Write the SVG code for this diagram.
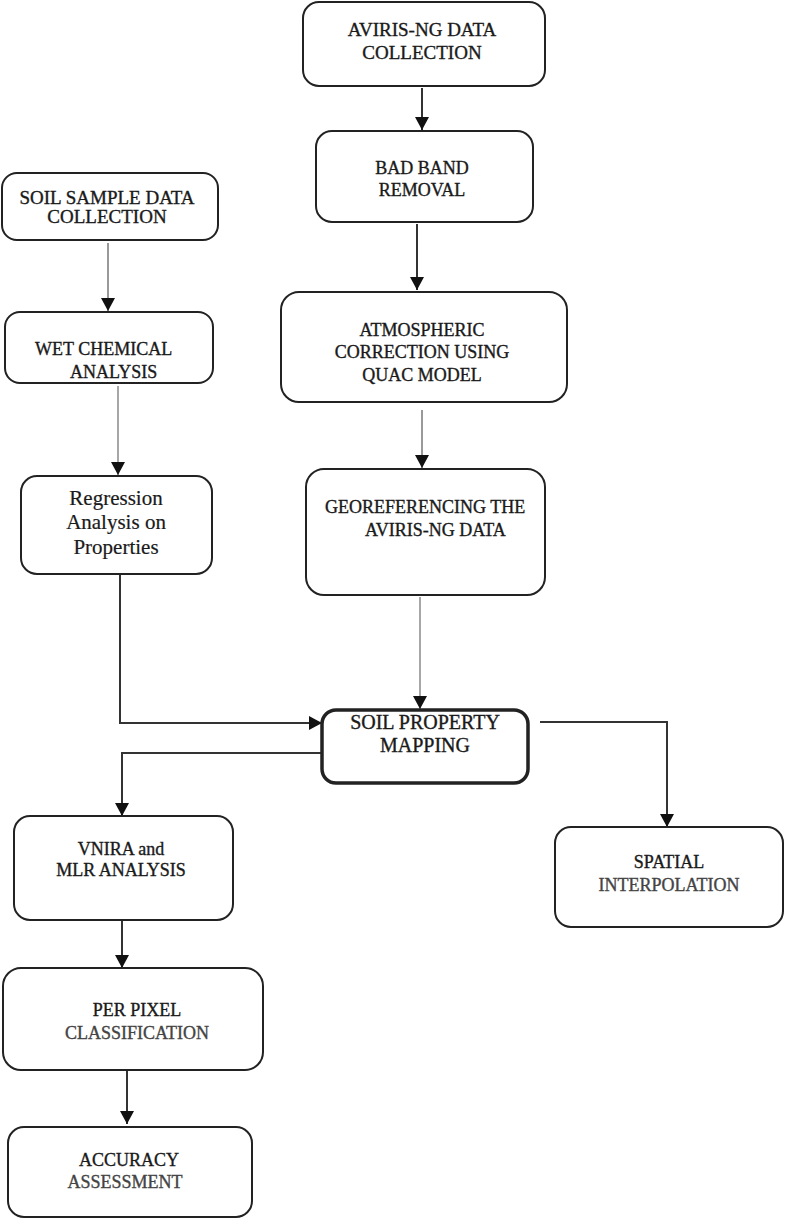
<svg xmlns="http://www.w3.org/2000/svg" width="785" height="1220" viewBox="0 0 785 1220">
<defs>
<style>
.box{fill:#fff;stroke:#222;stroke-width:2}
.thick{stroke-width:3.5}
.t{font-family:"Liberation Serif","Times New Roman",serif;font-size:18px;fill:#1a1a1a;stroke:#1a1a1a;stroke-width:0.35;text-anchor:middle}
.tl{font-family:"Liberation Serif","Times New Roman",serif;font-size:18px;fill:#1a1a1a;stroke:#1a1a1a;stroke-width:0.35}
.rg{font-family:"Liberation Serif","Times New Roman",serif;font-size:21px;fill:#1a1a1a;stroke:#1a1a1a;stroke-width:0.2;text-anchor:middle}
.g{fill:#444;stroke:#444}
.s19{font-size:19px}
.s20{font-size:20px}
.c{fill:none;stroke:#333;stroke-width:2}
.cg{fill:none;stroke:#999;stroke-width:2}
.cl{fill:none;stroke:#777;stroke-width:1.3}
</style>
<marker id="ah" markerWidth="14" markerHeight="14" refX="13" refY="7" orient="auto" markerUnits="userSpaceOnUse"><path d="M0,0 L13,7 L0,14 z" fill="#111"/></marker>
</defs>
<g id="connectors">
<line class="c" x1="422" y1="88" x2="422" y2="130" marker-end="url(#ah)"/>
<line class="c" x1="417" y1="224" x2="417" y2="290" marker-end="url(#ah)"/>
<line class="cg" x1="422" y1="410" x2="422" y2="468" marker-end="url(#ah)"/>
<line class="cl" x1="420" y1="597" x2="420" y2="709" marker-end="url(#ah)"/>
<line class="cg" x1="108" y1="243" x2="108" y2="311" marker-end="url(#ah)"/>
<line class="cl" x1="118" y1="386" x2="118" y2="475" marker-end="url(#ah)"/>
<polyline class="c" points="120,575 120,723 322,723" stroke="#555" marker-end="url(#ah)"/>
<polyline class="c" points="322,753 122,753 122,816" marker-end="url(#ah)"/>
<polyline class="c" points="540,722 667,722 667,827" marker-end="url(#ah)"/>
<line class="c" x1="122" y1="920" x2="122" y2="968" marker-end="url(#ah)"/>
<line class="c" x1="127" y1="1055" x2="127" y2="1124" marker-end="url(#ah)"/>
</g>
<g id="aviris">
<rect class="box" x="303" y="2" width="242" height="84" rx="16"/>
<text class="t s19" x="422" y="36">AVIRIS-NG DATA</text>
<text class="t s19" x="422" y="59">COLLECTION</text>
</g>
<g id="badband">
<rect class="box" x="316" y="131" width="217" height="91" rx="16"/>
<text class="t" x="422" y="174">BAD BAND</text>
<text class="t" x="422" y="196">REMOVAL</text>
</g>
<g id="atmospheric">
<rect class="box" x="281" y="292" width="286" height="110" rx="18"/>
<text class="t" x="422" y="336">ATMOSPHERIC</text>
<text class="t" x="422" y="358">CORRECTION USING</text>
<text class="t" x="422" y="381">QUAC MODEL</text>
</g>
<g id="georef">
<rect class="box" x="306" y="469" width="239" height="126" rx="18"/>
<text class="tl" x="325" y="513">GEOREFERENCING THE</text>
<text class="tl" x="365" y="536">AVIRIS-NG DATA</text>
</g>
<g id="soilsample">
<rect class="box" x="2" y="173" width="216" height="67" rx="15"/>
<text class="t s19" x="107" y="204">SOIL SAMPLE DATA</text>
<text class="t s19" x="107" y="223">COLLECTION</text>
</g>
<g id="wetchem">
<rect class="box" x="5" y="312" width="208" height="71" rx="15"/>
<text class="tl" x="35" y="355">WET CHEMICAL</text>
<text class="tl" x="70" y="378">ANALYSIS</text>
</g>
<g id="regression">
<rect class="box" x="21" y="476" width="191" height="98" rx="16"/>
<text class="rg" x="116" y="505">Regression</text>
<text class="rg" x="116" y="529">Analysis on</text>
<text class="rg" x="116" y="554">Properties</text>
</g>
<g id="soilproperty">
<rect class="box thick" x="322" y="710" width="206" height="73" rx="14"/>
<text class="t s20" x="425" y="729">SOIL PROPERTY</text>
<text class="t s20" x="425" y="752">MAPPING</text>
</g>
<g id="spatial">
<rect class="box" x="555" y="827" width="228" height="100" rx="16"/>
<text class="t" x="669" y="868">SPATIAL</text>
<text class="t g" x="669" y="891">INTERPOLATION</text>
</g>
<g id="vnira">
<rect class="box" x="14" y="816" width="219" height="104" rx="16"/>
<text class="t" x="121" y="855">VNIRA and</text>
<text class="t" x="121" y="876">MLR ANALYSIS</text>
</g>
<g id="perpixel">
<rect class="box" x="3" y="968" width="260" height="102" rx="18"/>
<text class="t" x="137" y="1016">PER PIXEL</text>
<text class="t g" x="137" y="1039">CLASSIFICATION</text>
</g>
<g id="accuracy">
<rect class="box" x="8" y="1127" width="244" height="90" rx="16"/>
<text class="t" x="129" y="1166">ACCURACY</text>
<text class="t g" x="125" y="1188">ASSESSMENT</text>
</g>
</svg>
